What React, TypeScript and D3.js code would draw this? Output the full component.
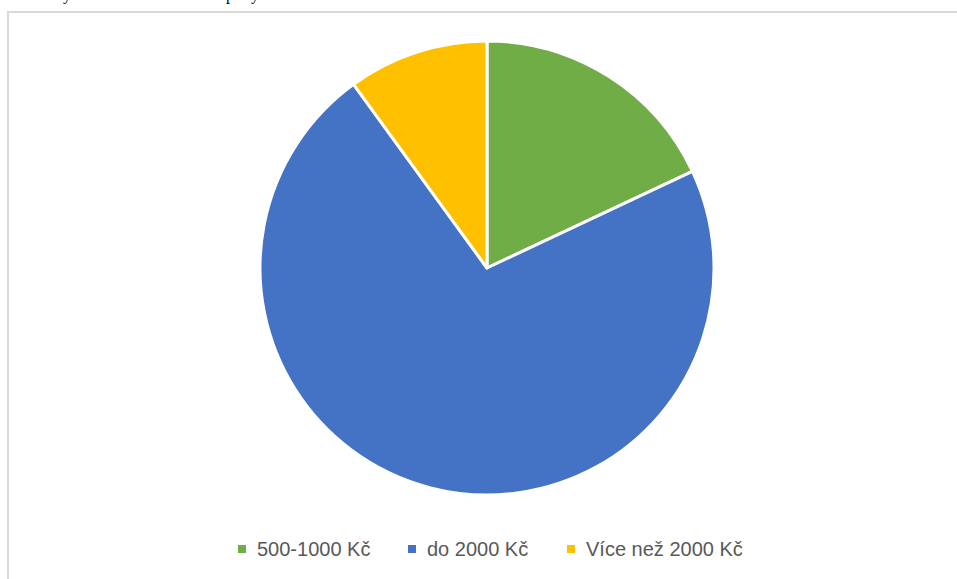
import React from "react";
import * as d3 from "d3";

const categories = ["500-1000 Kč", "do 2000 Kč", "Více než 2000 Kč"];
const values = [18, 72, 10];
const colors = ["#70AD47", "#4472C4", "#FFC000"];

const W = 957;
const H = 579;
const cx = 487;
const cy = 268;
const R = 227;

export default function App() {
  const pie = d3.pie<number>().sort(null).value((d) => d)(values);
  const arc = d3.arc<d3.PieArcDatum<number>>().innerRadius(0).outerRadius(R);

  const legendX = [242, 412, 571];
  const legendY = 549;

  return (
    <svg
      width={W}
      height={H}
      style={{ position: "absolute", left: 0, top: 0, background: "#fff" }}
      fontFamily="Liberation Sans, Arial, sans-serif"
    >
      {/* cropped document text above the chart */}
      <g fontFamily="Liberation Serif, serif" fontSize={16} fill="#000">
        <text x={63} y={0}>y</text>
        <text x={226} y={0}>p</text>
        <text x={251} y={0}>y</text>
      </g>
      {/* chart frame */}
      <rect x={8} y={12} width={W + 20} height={H + 20} fill="#fff" stroke="#D9D9D9" strokeWidth={2} />
      <g transform={`translate(${cx},${cy})`}>
        {pie.map((p, i) => (
          <path key={i} d={arc(p) || ""} fill={colors[i]} stroke="#fff" strokeWidth={3} strokeLinejoin="round" />
        ))}
      </g>
      <g fontSize={20} fill="#595959">
        {categories.map((c, i) => (
          <g key={c}>
            <rect x={legendX[i] - 4} y={legendY - 4} width={8} height={8} fill={colors[i]} />
            <text x={legendX[i] + 15} y={legendY} dominantBaseline="central">
              {c}
            </text>
          </g>
        ))}
      </g>
    </svg>
  );
}
